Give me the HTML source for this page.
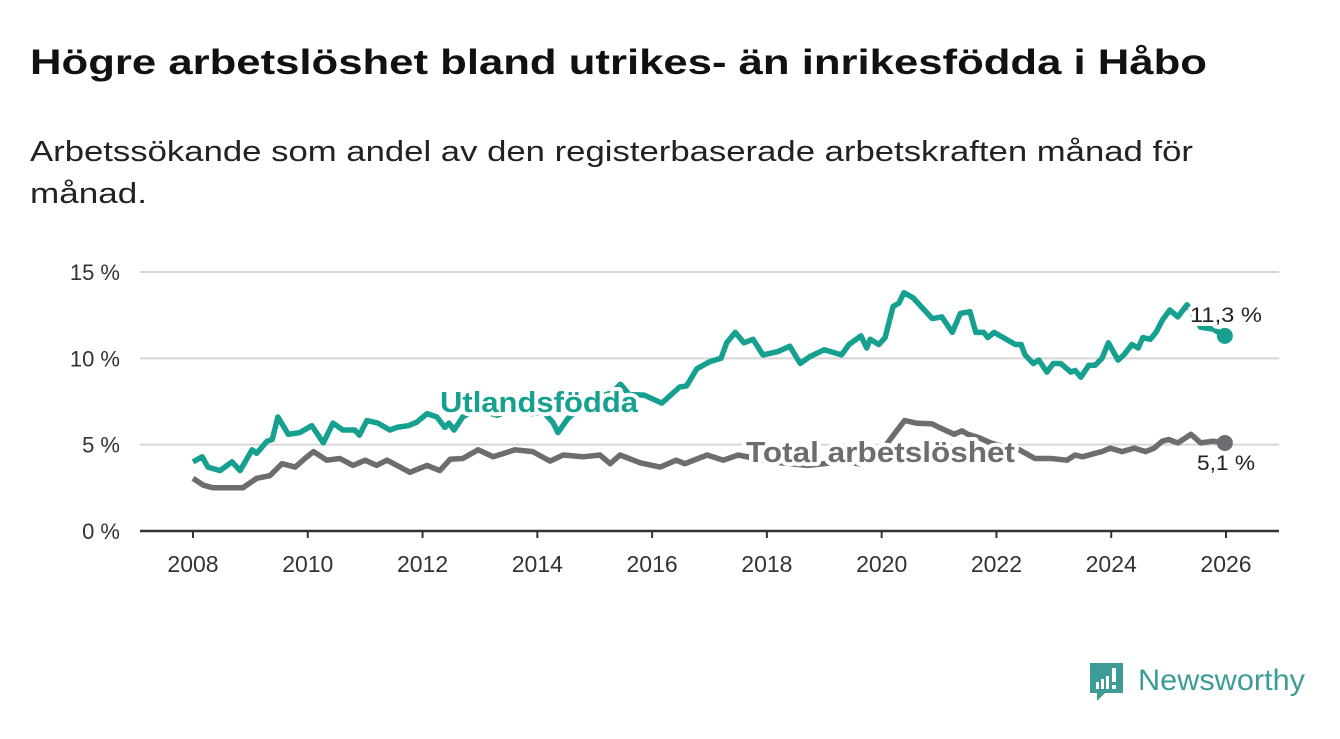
<!DOCTYPE html>
<html><head><meta charset="utf-8"><style>
body{margin:0;background:#fff;width:1340px;height:734px;overflow:hidden;font-family:"Liberation Sans",sans-serif;}
</style></head><body>
<svg width="1340" height="734" viewBox="0 0 1340 734">
<text x="30" y="74" font-size="35" font-weight="bold" fill="#111" textLength="1177" lengthAdjust="spacingAndGlyphs">Högre arbetslöshet bland utrikes- än inrikesfödda i Håbo</text>
<text x="30" y="161" font-size="29" fill="#222" textLength="1163" lengthAdjust="spacingAndGlyphs">Arbetssökande som andel av den registerbaserade arbetskraften månad för</text>
<text x="30" y="203" font-size="29" fill="#222" textLength="117" lengthAdjust="spacingAndGlyphs">månad.</text>
<g id="grid"></g><g id="lines"></g><g id="labels"></g>
<g>
<path d="M1090 663 h33 v30 h-18 l-8 8 v-8 h-7 z" fill="#3e9c97"/>
<rect x="1096" y="682" width="3" height="7" fill="#fff"/><rect x="1101" y="679" width="3" height="10" fill="#fff"/><rect x="1106" y="676" width="3" height="13" fill="#fff"/><rect x="1112" y="668" width="4" height="14" fill="#fff"/><rect x="1112" y="685" width="4" height="4" fill="#fff"/>
<text x="1138" y="690" font-size="30" fill="#3e9c97" textLength="167" lengthAdjust="spacingAndGlyphs">Newsworthy</text>
</g>
</svg>
<script>
const yTicks=[0,5,10,15];
const yTickLabels=["0 %","5 %","10 %","15 %"];
const xTicks=[2008,2010,2012,2014,2016,2018,2020,2022,2024,2026];
const foreignT=[2008,2008.16,2008.26,2008.47,2008.68,2008.82,2009.03,2009.11,2009.29,2009.38,2009.48,2009.66,2009.86,2010.07,2010.27,2010.44,2010.61,2010.82,2010.9,2011.03,2011.22,2011.43,2011.55,2011.75,2011.9,2012.08,2012.25,2012.39,2012.46,2012.55,2012.7,2012.85,2013,2013.3,2013.6,2013.9,2014.1,2014.27,2014.36,2014.53,2014.7,2014.9,2015.1,2015.3,2015.45,2015.6,2015.86,2016.17,2016.48,2016.6,2016.78,2017,2017.2,2017.3,2017.45,2017.6,2017.76,2017.93,2018.2,2018.4,2018.58,2018.75,2019,2019.3,2019.43,2019.64,2019.74,2019.8,2019.95,2020.06,2020.2,2020.3,2020.39,2020.55,2020.88,2021.05,2021.23,2021.37,2021.54,2021.64,2021.78,2021.85,2021.96,2022.33,2022.43,2022.5,2022.64,2022.74,2022.88,2022.99,2023.12,2023.3,2023.37,2023.47,2023.61,2023.72,2023.84,2023.95,2024.12,2024.22,2024.36,2024.47,2024.55,2024.68,2024.78,2024.89,2025.02,2025.16,2025.32,2025.56,2025.77,2025.98];
const foreignV=[4.0,4.3,3.7,3.5,4.0,3.5,4.7,4.5,5.2,5.3,6.6,5.6,5.7,6.1,5.1,6.25,5.85,5.85,5.55,6.4,6.25,5.85,6.0,6.1,6.3,6.8,6.6,6.0,6.25,5.85,6.6,6.9,7.0,6.7,7.1,6.8,6.9,6.3,5.7,6.5,7.0,7.6,7.8,8.0,8.5,7.9,7.87,7.41,8.34,8.4,9.4,9.8,10.0,10.9,11.5,10.9,11.1,10.2,10.4,10.7,9.7,10.1,10.5,10.2,10.8,11.3,10.6,11.1,10.8,11.2,13.0,13.2,13.8,13.5,12.3,12.4,11.5,12.6,12.7,11.5,11.5,11.2,11.5,10.8,10.8,10.2,9.7,9.9,9.2,9.7,9.7,9.2,9.3,8.9,9.6,9.6,10.0,10.9,9.9,10.2,10.8,10.6,11.2,11.1,11.5,12.2,12.8,12.4,13.1,11.8,11.7,11.3];
const totalT=[2008,2008.18,2008.35,2008.87,2009.11,2009.34,2009.55,2009.78,2009.95,2010.1,2010.33,2010.56,2010.79,2011,2011.2,2011.38,2011.78,2012.08,2012.3,2012.48,2012.7,2012.97,2013.23,2013.61,2013.92,2014.22,2014.45,2014.8,2015.09,2015.27,2015.44,2015.79,2016.14,2016.42,2016.57,2016.96,2017.24,2017.5,2017.8,2018.1,2018.4,2018.7,2019,2019.3,2019.6,2019.9,2020.17,2020.4,2020.6,2020.88,2021,2021.26,2021.4,2021.5,2021.7,2021.9,2022.1,2022.4,2022.67,2022.95,2023.23,2023.37,2023.5,2023.72,2023.84,2023.98,2024.19,2024.4,2024.6,2024.75,2024.89,2025,2025.16,2025.39,2025.56,2025.77,2025.98];
const totalV=[3.05,2.65,2.5,2.5,3.05,3.2,3.9,3.7,4.2,4.6,4.1,4.2,3.8,4.1,3.8,4.1,3.4,3.8,3.5,4.15,4.2,4.7,4.3,4.7,4.6,4.05,4.4,4.3,4.4,3.9,4.4,3.95,3.7,4.1,3.9,4.4,4.1,4.4,4.2,4.0,3.9,3.8,3.9,4.0,3.9,4.2,5.4,6.4,6.25,6.2,6.0,5.6,5.8,5.6,5.4,5.1,4.9,4.7,4.2,4.2,4.1,4.4,4.3,4.5,4.6,4.8,4.6,4.8,4.6,4.8,5.2,5.3,5.1,5.6,5.1,5.2,5.1];
const NS="http://www.w3.org/2000/svg";
const X=t=>193+(t-2008)*(1226-193)/18;
const Y=v=>531-v*(531-272)/15;
function mk(tag,attrs,parent,txt){const e=document.createElementNS(NS,tag);for(const k in attrs)e.setAttribute(k,attrs[k]);if(txt!==undefined)e.textContent=txt;parent.appendChild(e);return e;}
const grid=document.getElementById('grid'),lines=document.getElementById('lines'),labels=document.getElementById('labels');
yTicks.forEach((v,i)=>{
 if(v>0){const g=mk('line',{x1:140,x2:1279,y1:Y(v),y2:Y(v),stroke:'#d6d6d6','stroke-width':2},grid);
 
 }
 const t=mk('text',{x:120,y:Y(v)+8,'font-size':22,fill:'#333','text-anchor':'end'},grid,yTickLabels[i]);
 
 
});
const ax=mk('line',{x1:140,x2:1279,y1:531,y2:531,stroke:'#333','stroke-width':2.5},grid);


xTicks.forEach(yr=>{
 const tk=mk('line',{x1:X(yr),x2:X(yr),y1:531,y2:538,stroke:'#333','stroke-width':2},grid);
 
 
 const t=mk('text',{x:X(yr),y:572,'font-size':23,fill:'#333','text-anchor':'middle'},grid,String(yr));
 
 
});
function path(T,V){return T.map((t,i)=>(i?'L':'M')+X(t).toFixed(1)+' '+Y(V[i]).toFixed(1)).join(' ');}
const pt=mk('path',{d:path(totalT,totalV),fill:'none',stroke:'#6d6c70','stroke-width':5.5,'stroke-linejoin':'round'},lines);


const pf=mk('path',{d:path(foreignT,foreignV),fill:'none',stroke:'#16a08f','stroke-width':5.5,'stroke-linejoin':'round'},lines);


const lt=totalT.length-1,lf=foreignT.length-1;
const d1=mk('circle',{cx:X(foreignT[lf]),cy:Y(foreignV[lf]),r:8,fill:'#16a08f'},lines);


const d2=mk('circle',{cx:X(totalT[lt]),cy:Y(totalV[lt]),r:8,fill:'#6d6c70'},lines);


const halo={stroke:'#fff','stroke-width':8,'paint-order':'stroke','stroke-linejoin':'round'};
function lab(x,y,s,fill,bold,size,anchor,name,len){const a=Object.assign({x:x,y:y,'font-size':size,fill:fill,'text-anchor':anchor},halo);if(bold)a['font-weight']='bold';if(len){a.textLength=len;a.lengthAdjust='spacingAndGlyphs';}const t=mk('text',a,labels,s);
 
 }
lab(440,412,'Utlandsfödda','#16a08f',true,29,'start','foreign-born-label',198);
lab(746,462,'Total arbetslöshet','#6d6c70',true,29,'start','total-label',269);
lab(1226,322,'11,3 %','#222',false,21,'middle','foreign-born-end-value',72);
lab(1226,470,'5,1 %','#222',false,21,'middle','total-end-value',58);
</script>
</body></html>
